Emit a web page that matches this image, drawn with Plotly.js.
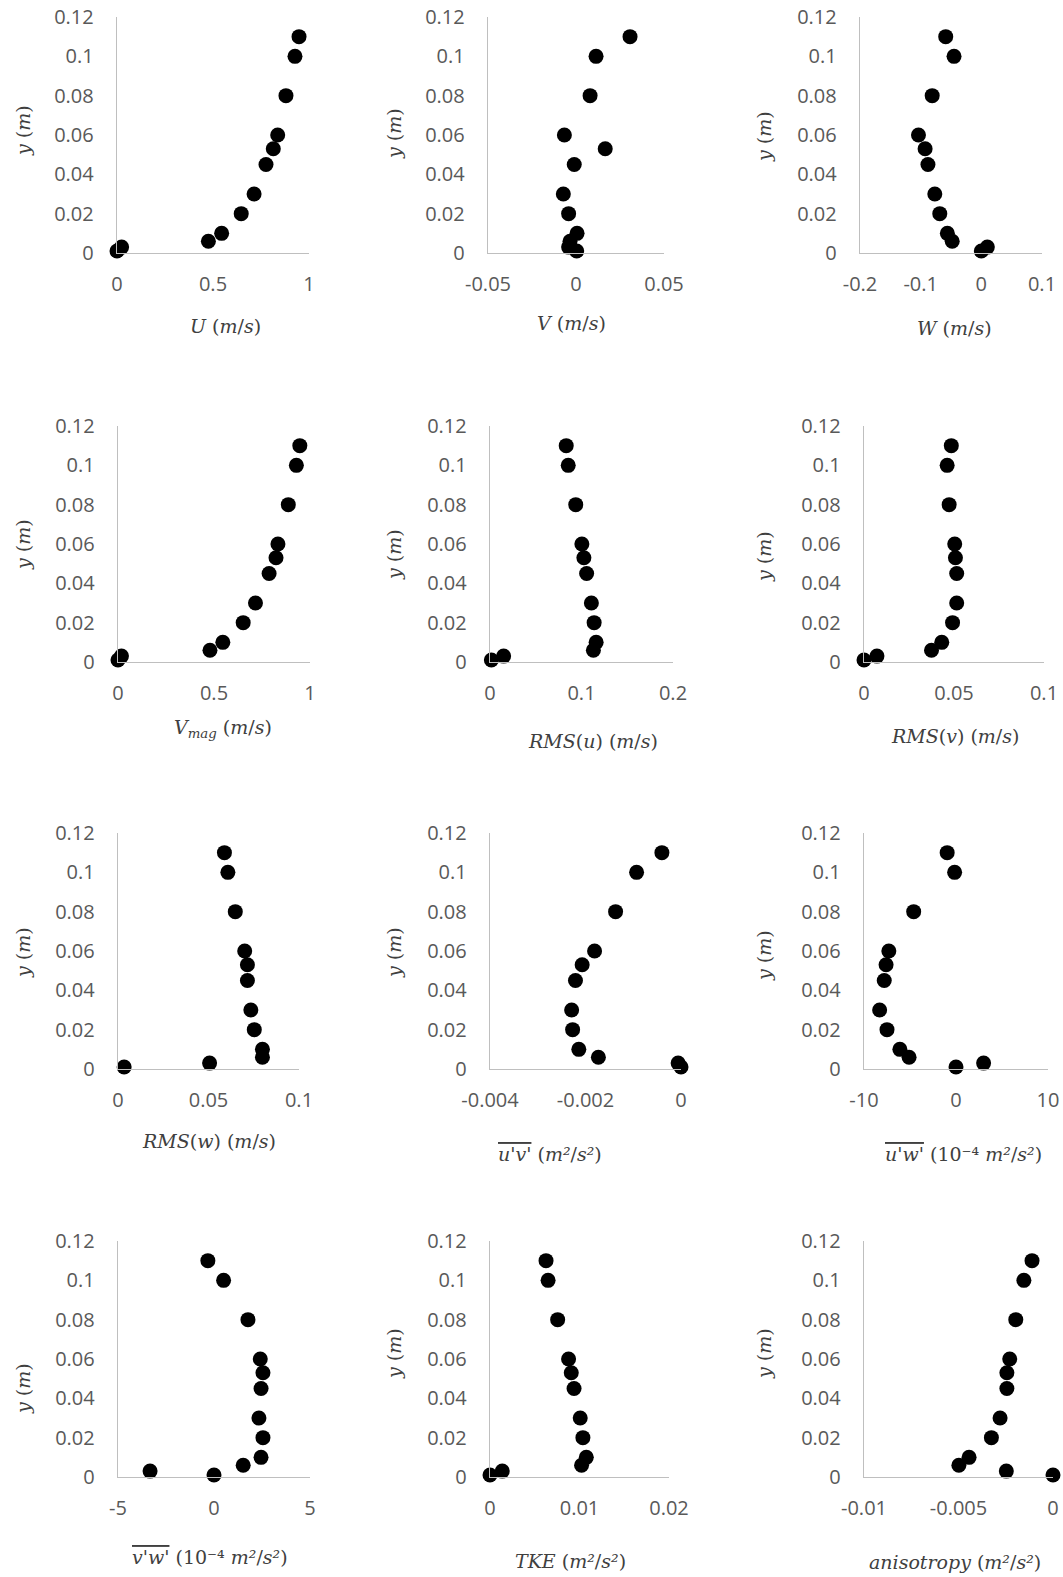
<!DOCTYPE html>
<html>
<head>
<meta charset="utf-8">
<script src="https://cdn.plot.ly/plotly-3.0.1.min.js"></script>
<style>html,body{margin:0;padding:0;background:#fff;}#chart{width:1063px;height:1577px;}</style>
</head>
<body>
<div id="chart"></div>
<script>
// ---- data ----
const yPos  = [0.11, 0.10, 0.08, 0.06, 0.053, 0.045, 0.03, 0.02, 0.01, 0.006, 0.003, 0.001];
const U     = [0.948, 0.927, 0.880, 0.837, 0.814, 0.776, 0.714, 0.647, 0.545, 0.476, 0.024, 0.0];
const V     = [0.0307, 0.0114, 0.008, -0.0066, 0.0166, -0.001, -0.0072, -0.0042, 0.0006, -0.0034, -0.0042, 0.0004];
const W     = [-0.0587, -0.045, -0.081, -0.1036, -0.0927, -0.088, -0.0767, -0.0685, -0.056, -0.048, 0.0099, 0.0];
const Vmag  = [0.947, 0.929, 0.887, 0.833, 0.823, 0.787, 0.716, 0.652, 0.546, 0.479, 0.018, 0.0];
const RMSu  = [0.0833, 0.0855, 0.0937, 0.1004, 0.1026, 0.1056, 0.1108, 0.1138, 0.116, 0.113, 0.0149, 0.0015];
const RMSv  = [0.0485, 0.0462, 0.0473, 0.0504, 0.0508, 0.0515, 0.0515, 0.0492, 0.0432, 0.0375, 0.0072, 0.0];
const RMSw  = [0.0588, 0.0607, 0.0648, 0.0700, 0.0715, 0.0715, 0.0734, 0.0753, 0.0798, 0.0798, 0.0506, 0.0034];
const uv    = [-0.0004, -0.00093, -0.00137, -0.00181, -0.00207, -0.00221, -0.00229, -0.00227, -0.00214, -0.00173, -0.00006, 0.0];
const uw    = [-0.96, -0.15, -4.6, -7.3, -7.6, -7.8, -8.3, -7.5, -6.1, -5.1, 3.0, 0.0];
const vw    = [-0.32, 0.5, 1.77, 2.41, 2.55, 2.45, 2.34, 2.55, 2.45, 1.52, -3.33, 0.0];
const TKE   = [0.00626, 0.00649, 0.00756, 0.00878, 0.00908, 0.00939, 0.01008, 0.01038, 0.01076, 0.01023, 0.00137, 0.0];
const aniso = [-0.00111, -0.00154, -0.00197, -0.00229, -0.00244, -0.00244, -0.0028, -0.00326, -0.00444, -0.00498, -0.00247, 0.0];

// ---- tick labels ----
const yTickVals = [0, 0.02, 0.04, 0.06, 0.08, 0.1, 0.12];
const yTickText = ['0', '0.02', '0.04', '0.06', '0.08', '0.1', '0.12'];
const xt_U = [0, 0.5, 1],            xl_U = ['0', '0.5', '1'];
const xt_V = [-0.05, 0, 0.05],       xl_V = ['-0.05', '0', '0.05'];
const xt_W = [-0.2, -0.1, 0, 0.1],   xl_W = ['-0.2', '-0.1', '0', '0.1'];
const xt_Vm = [0, 0.5, 1],           xl_Vm = ['0', '0.5', '1'];
const xt_Ru = [0, 0.1, 0.2],         xl_Ru = ['0', '0.1', '0.2'];
const xt_Rv = [0, 0.05, 0.1],        xl_Rv = ['0', '0.05', '0.1'];
const xt_Rw = [0, 0.05, 0.1],        xl_Rw = ['0', '0.05', '0.1'];
const xt_uv = [-0.004, -0.002, 0],   xl_uv = ['-0.004', '-0.002', '0'];
const xt_uw = [-10, 0, 10],          xl_uw = ['-10', '0', '10'];
const xt_vw = [-5, 0, 5],            xl_vw = ['-5', '0', '5'];
const xt_tk = [0, 0.01, 0.02],       xl_tk = ['0', '0.01', '0.02'];
const xt_an = [-0.01, -0.005, 0],    xl_an = ['-0.01', '-0.005', '0'];

// ---- axis titles ----
const ov = s => '<span style="text-decoration:overline">' + s + '</span>';
const titles = [
  '<i>U</i> (<i>m</i>/<i>s</i>)',
  '<i>V</i> (<i>m</i>/<i>s</i>)',
  '<i>W</i> (<i>m</i>/<i>s</i>)',
  '<i>V<sub>mag</sub></i> (<i>m</i>/<i>s</i>)',
  '<i>RMS</i>(<i>u</i>) (<i>m</i>/<i>s</i>)',
  '<i>RMS</i>(<i>v</i>) (<i>m</i>/<i>s</i>)',
  '<i>RMS</i>(<i>w</i>) (<i>m</i>/<i>s</i>)',
  ov("<i>u'v'</i>") + ' (<i>m²</i>/<i>s²</i>)',
  ov("<i>u'w'</i>") + ' (10⁻⁴ <i>m²</i>/<i>s²</i>)',
  ov("<i>v'w'</i>") + ' (10⁻⁴ <i>m²</i>/<i>s²</i>)',
  '<i>TKE</i> (<i>m²</i>/<i>s²</i>)',
  '<i>anisotropy</i> (<i>m²</i>/<i>s²</i>)'
];
const yTitle = '<i>y</i> (<i>m</i>)';

// ---- panel setup ----
const W_PX = 1063, H_PX = 1577;
const rowTop = [17, 426, 833, 1241];
const rowBot = [253, 662, 1069, 1477];
const series = [U, V, W, Vmag, RMSu, RMSv, RMSw, uv, uw, vw, TKE, aniso];
const ranges = [[0,1],[-0.05,0.05],[-0.2,0.1],[0,1],[0,0.2],[0,0.1],[0,0.1],[-0.004,0],[-10,10],[-5,5],[0,0.02],[-0.01,0]];
const tvals = [xt_U, xt_V, xt_W, xt_Vm, xt_Ru, xt_Rv, xt_Rw, xt_uv, xt_uw, xt_vw, xt_tk, xt_an];
const ttext = [xl_U, xl_V, xl_W, xl_Vm, xl_Ru, xl_Rv, xl_Rw, xl_uv, xl_uw, xl_vw, xl_tk, xl_an];
const xDomPx = [[117,309],[488,664],[860,1042],[118,310],[490,673],[864,1044],[118,299],[490,681],[864,1048],[118,310],[490,669],[864,1053]];
const xTitlePos = [[225,326],[571,323],[954,328],[223,728],[593,741],[955,736],[209,1141],[550,1154],[963,1154],[210,1557],[570,1561],[955,1562]];
const yTitlePos = [[23,131],[394,134],[764,137],[23,545],[394,555],[764,557],[23,953],[394,953],[764,956],[23,1389],[394,1354],[764,1354]];

const tickFont = {family: 'Open Sans, sans-serif', size: 20, color: '#595959'};
const titleFont = {family: 'DejaVu Serif, serif', size: 19, color: '#404040'};
const lineColor = '#bfbfbf';

const data = [];
const layout = {
  width: W_PX, height: H_PX,
  margin: {l: 0, r: 0, t: 0, b: 0},
  paper_bgcolor: '#ffffff', plot_bgcolor: '#ffffff',
  showlegend: false,
  annotations: []
};

series.forEach((xs, i) => {
  const n = i + 1;
  const r = Math.floor(i / 3);
  data.push({
    type: 'scatter', mode: 'markers',
    x: xs, y: yPos,
    xaxis: 'x' + n, yaxis: 'y' + n,
    marker: {color: '#000000', size: 15},
    cliponaxis: false,
    hoverinfo: 'skip'
  });
  layout['xaxis' + n] = {
    domain: [xDomPx[i][0] / W_PX, xDomPx[i][1] / W_PX],
    anchor: 'y' + n,
    range: ranges[i],
    tickmode: 'array', tickvals: tvals[i], ticktext: ttext[i],
    showline: true, linecolor: lineColor, linewidth: 1.3,
    showgrid: false, zeroline: false, ticks: '',
    tickfont: tickFont, ticklabelstandoff: 13,
    fixedrange: true
  };
  layout['yaxis' + n] = {
    domain: [1 - rowBot[r] / H_PX, 1 - rowTop[r] / H_PX],
    anchor: 'x' + n,
    range: [0, 0.12],
    tickmode: 'array', tickvals: yTickVals, ticktext: yTickText,
    showline: true, linecolor: lineColor, linewidth: 1.3,
    showgrid: false, zeroline: false, ticks: '',
    tickfont: tickFont, ticklabelstandoff: 18,
    fixedrange: true
  };
  layout.annotations.push({
    xref: 'paper', yref: 'paper',
    x: xTitlePos[i][0] / W_PX, y: 1 - xTitlePos[i][1] / H_PX,
    xanchor: 'center', yanchor: 'middle',
    text: titles[i], showarrow: false, font: titleFont
  });
  layout.annotations.push({
    xref: 'paper', yref: 'paper',
    x: yTitlePos[i][0] / W_PX, y: 1 - yTitlePos[i][1] / H_PX,
    xanchor: 'center', yanchor: 'middle', textangle: -90,
    text: yTitle, showarrow: false, font: titleFont
  });
});

Plotly.newPlot('chart', data, layout, {staticPlot: true, displayModeBar: false});
</script>
</body>
</html>
